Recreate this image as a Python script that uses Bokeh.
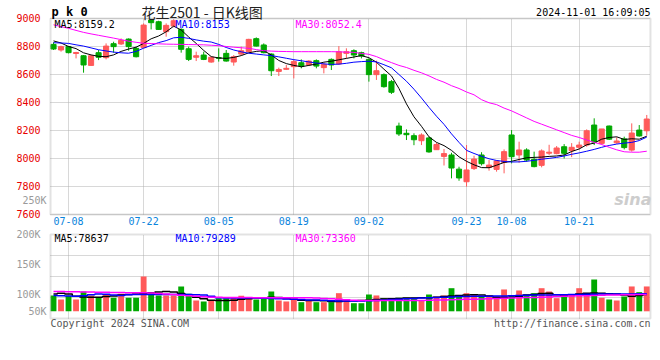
import pandas as pd
from bokeh.plotting import figure
from bokeh.models import (Range1d, FixedTicker, Label, ColumnDataSource, Grid,
                          BoxAnnotation)
from bokeh.layouts import column
from bokeh.embed import file_html
from bokeh.resources import INLINE

# ---------------- data ----------------
HOLIDAYS = ["2024-09-16", "2024-09-17", "2024-10-01", "2024-10-02", "2024-10-03",
            "2024-10-04", "2024-10-07"]
TRADE_DAYS = pd.bdate_range("2024-07-04", "2024-11-01", freq="C", holidays=HOLIDAYS)
DATES = [d.strftime("%m-%d") for d in TRADE_DAYS]
TICK_DATES = ["07-08", "07-22", "08-05", "08-19", "09-02", "09-23", "10-08", "10-21"]
PRICE_TICKS = [7600, 7800, 8000, 8200, 8400, 8600, 8800, 9000]
VOL_TICKS = [100000, 150000, 200000]
VOL_TICK_LABELS = ["100K", "150K", "200K"]

OPEN = [8815, 8775, 8799, 8750, 8734, 8665, 8756, 8720, 8820, 8818,
        8853, 8787, 8792, 8989, 8977, 8906, 8946, 8922, 8784, 8723,
        8739, 8689, 8720, 8751, 8689, 8746, 8763, 8856, 8811, 8746,
        8622, 8637, 8656, 8684, 8668, 8699, 8649, 8708, 8675, 8751,
        8770, 8756, 8708, 8599, 8599, 8549, 8232, 8180, 8163, 8127,
        8147, 8063, 8015, 8025, 7924, 7834, 7928, 8025, 7937, 7922,
        7972, 8168, 8025, 8061, 7994, 7951, 8038, 8035, 8084, 8056,
        8080, 8096, 8239, 8108, 8232, 8112, 8140, 8060, 8203, 8198]
HIGH = [8830, 8806, 8803, 8762, 8739, 8739, 8775, 8822, 8834, 8858,
        8858, 8799, 8965, 8994, 8984, 8965, 8994, 8930, 8799, 8763,
        8763, 8727, 8787, 8775, 8739, 8799, 8855, 8865, 8822, 8751,
        8649, 8668, 8708, 8708, 8703, 8708, 8684, 8715, 8803, 8787,
        8780, 8763, 8715, 8699, 8608, 8561, 8256, 8208, 8180, 8180,
        8156, 8113, 8068, 8041, 7941, 8096, 8020, 8045, 7989, 7989,
        8065, 8203, 8120, 8073, 8049, 8065, 8098, 8089, 8103, 8110,
        8120, 8208, 8287, 8211, 8235, 8152, 8156, 8251, 8239, 8311]
LOW = [8775, 8763, 8751, 8715, 8613, 8661, 8703, 8708, 8756, 8811,
       8770, 8722, 8787, 8922, 8918, 8870, 8937, 8756, 8696, 8696,
       8703, 8684, 8692, 8692, 8663, 8739, 8763, 8800, 8751, 8589,
       8589, 8632, 8572, 8644, 8660, 8644, 8608, 8632, 8668, 8715,
       8715, 8715, 8549, 8561, 8506, 8461, 8161, 8132, 8095, 8096,
       8041, 8061, 7950, 7858, 7841, 7799, 7918, 7950, 7913, 7906,
       7894, 7965, 7970, 7977, 7937, 7937, 8025, 8030, 8000, 8010,
       8065, 8084, 8096, 8100, 8132, 8105, 8065, 8049, 8156, 8164]
CLOSE = [8782, 8799, 8756, 8757, 8668, 8734, 8723, 8803, 8799, 8844,
         8799, 8727, 8953, 8970, 8922, 8951, 8984, 8780, 8708, 8734,
         8708, 8723, 8716, 8696, 8727, 8770, 8851, 8803, 8756, 8627,
         8636, 8644, 8692, 8660, 8696, 8660, 8672, 8668, 8763, 8763,
         8739, 8732, 8599, 8627, 8513, 8473, 8175, 8170, 8134, 8168,
         8047, 8100, 8035, 7932, 7861, 7918, 7996, 7963, 7953, 7982,
         8049, 8013, 8061, 7989, 7942, 8054, 8045, 8075, 8037, 8080,
         8096, 8198, 8117, 8211, 8138, 8125, 8078, 8182, 8161, 8282]
MA5 = [8840, 8825, 8800, 8785, 8755, 8740, 8730, 8727, 8740, 8765,
       8782, 8795, 8822, 8855, 8875, 8905, 8945, 8918, 8868, 8822,
       8772, 8728, 8718, 8715, 8722, 8735, 8755, 8765, 8770, 8740,
       8700, 8678, 8665, 8655, 8665, 8675, 8688, 8695, 8705, 8715,
       8725, 8735, 8720, 8688, 8638, 8590, 8500, 8390, 8298, 8230,
       8155, 8115, 8092, 8058, 8012, 7980, 7955, 7935, 7934, 7952,
       7972, 7980, 7993, 8005, 8008, 8010, 8015, 8018, 8025, 8050,
       8068, 8098, 8110, 8138, 8150, 8155, 8136, 8141, 8138, 8159]
MA10 = [8827, 8825, 8822, 8812, 8803, 8790, 8777, 8768, 8760, 8755,
        8752, 8765, 8788, 8808, 8828, 8842, 8862, 8866, 8858, 8847,
        8838, 8832, 8815, 8793, 8775, 8762, 8752, 8746, 8740, 8735,
        8726, 8716, 8706, 8698, 8690, 8682, 8676, 8672, 8674, 8680,
        8688, 8692, 8695, 8690, 8670, 8648, 8600, 8552, 8495, 8432,
        8365, 8302, 8244, 8176, 8115, 8058, 8036, 8016, 7998, 7986,
        7979, 7975, 7976, 7980, 7987, 7995, 8001, 8008, 8018, 8030,
        8040, 8052, 8065, 8080, 8093, 8103, 8110, 8115, 8128, 8153]
MA30 = [8955, 8942, 8930, 8915, 8901, 8890, 8880, 8870, 8860, 8849,
        8838, 8830, 8823, 8821, 8819, 8817, 8816, 8815, 8814, 8813,
        8812, 8809, 8806, 8800, 8795, 8791, 8787, 8778, 8770, 8767,
        8765, 8764, 8763, 8763, 8763, 8763, 8763, 8763, 8762, 8760,
        8758, 8751, 8744, 8728, 8705, 8685, 8665, 8650, 8630, 8612,
        8590, 8565, 8545, 8520, 8500, 8475, 8455, 8420, 8398, 8385,
        8360, 8340, 8315, 8290, 8265, 8245, 8225, 8205, 8185, 8165,
        8150, 8132, 8115, 8100, 8080, 8062, 8048, 8045, 8045, 8052]
VOLUME = [98400, 91700, 97900, 91700, 105000, 98400, 94500, 99500, 94500, 101200,
          94500, 94500, 130000, 102200, 98400, 98400, 98400, 113400, 101200, 90000,
          88400, 90000, 93900, 93900, 94500, 97900, 94500, 91700, 94500, 105000,
          90000, 88400, 91700, 87200, 90000, 87200, 87200, 87200, 102200, 90000,
          85500, 85500, 100000, 98400, 93900, 90000, 94500, 94500, 94500, 90000,
          100000, 96700, 98400, 110500, 96700, 102200, 100000, 96700, 98400, 96700,
          108400, 98400, 106700, 100000, 102200, 110500, 105000, 93900, 98400, 100000,
          110500, 100000, 125000, 94500, 91700, 90000, 96700, 113400, 103900, 113400]
VMA5 = [101000, 102000, 101000, 97000, 96000, 95500, 95500, 96500, 97500, 99000,
        100000, 101000, 102000, 103000, 104000, 105000, 104000, 101500, 99000, 95500,
        93000, 90500, 90000, 90000, 90500, 92000, 93000, 94000, 94500, 95500,
        95000, 93500, 92000, 90500, 90000, 90000, 89500, 88500, 88500, 89000,
        89500, 90000, 90500, 91500, 92500, 93000, 93500, 94000, 94000, 94500,
        94500, 95500, 96500, 97500, 98500, 99000, 99500, 99000, 97500, 95500,
        95500, 95500, 97000, 99000, 100000, 101500, 102000, 99500, 98500, 99500,
        101000, 102000, 102500, 102000, 101200, 101000, 99000, 97000, 98500, 100000]
VMA10 = [98400, 98000, 97500, 97000, 98000, 99500, 101000, 100500, 99000, 98500,
         99500, 100000, 100000, 100000, 100000, 100000, 100000, 100000, 100000, 99500,
         99000, 97000, 94500, 94300, 94200, 94100, 94000, 94000, 93900, 93500,
         93000, 92500, 92000, 91500, 91000, 90700, 90300, 89500, 89000, 89000,
         89000, 89000, 89500, 90000, 90800, 91500, 92000, 92800, 93500, 94000,
         94500, 95000, 95500, 96000, 96500, 96800, 97000, 97100, 97200, 97300,
         97600, 98000, 98300, 98800, 99000, 99200, 99300, 99500, 99700, 100000,
         100200, 100400, 100600, 100700, 100800, 100900, 101000, 101000, 101100, 101200]
VMA30 = [105000, 104800, 104600, 104400, 104200, 104000, 103800, 103600, 103400, 103200,
         103000, 102900, 102800, 102500, 101800, 100800, 99800, 98800, 98000, 97200,
         96300, 95600, 95300, 95100, 95000, 94900, 94800, 94700, 94600, 94600,
         94500, 94500, 94500, 94500, 94400, 94200, 93500, 92800, 92000, 91200,
         90500, 90000, 90000, 90000, 90000, 90000, 90000, 90000, 90000, 90200,
         90500, 90800, 91000, 91300, 91600, 91900, 92200, 92500, 92800, 93200,
         93600, 94000, 94400, 94800, 95200, 95600, 96000, 96500, 97000, 97400,
         97800, 98100, 98400, 98700, 99000, 99200, 99500, 99700, 99900, 100000]

TITLE_CODE = "p k 0"
TITLE = "花生2501 - 日K线图"
STAMP = "2024-11-01 16:09:05"
PRICE_MA_TEXT = ["MA5:8159.2", "MA10:8153", "MA30:8052.4"]
VOL_MA_TEXT = ["MA5:78637", "MA10:79289", "MA30:73360"]
VOL_TOP_TEXT = "250K"
VOL_LOW_TEXT = "50K"
COPYRIGHT = "Copyright 2024 SINA.COM"
URL = "http://finance.sina.com.cn"
WATERMARK = "sina"

# ---------------- layout / style ----------------
W = 660
H1, H2 = 228, 124
PLOT_X = (-0.4, 79.49)           # the drawn chart box, in candle-index units
VIEW_X = (-7.06, 80.83)          # the whole canvas width
PRICE_BOX = (7600, 9000)
PRICE_VIEW = (7500, 9128.57)
VOL_BOX = (60000, 200000)
VOL_VIEW = (3333, 210000)
VOL_BAR_BASE = 72000

RED = "#ff5a5a"
GREEN = "#00a800"
MA_COLORS = ["#000000", "#0000ff", "#ff00ff"]
MONO = "DejaVu Sans Mono"
BORDER = "#a0a0a0"
GRID = "#b0b0b0"

n = len(CLOSE)
idx = list(range(n))
colors = [RED if c >= o else GREEN for o, c in zip(OPEN, CLOSE)]
src = ColumnDataSource(dict(
    x=idx, high=HIGH, low=LOW,
    top=[max(o, c) for o, c in zip(OPEN, CLOSE)],
    bottom=[min(o, c) for o, c in zip(OPEN, CLOSE)],
    color=colors, vol=VOLUME, ma5=MA5, ma10=MA10, ma30=MA30,
    vma5=VMA5, vma10=VMA10, vma30=VMA30))
tick_idx = [DATES.index(d) for d in TICK_DATES]
HAS_CROSS = "cross_bounds" in Grid.properties()


def make_fig(h, yview):
    f = figure(width=W, height=h, x_range=Range1d(*VIEW_X), y_range=Range1d(*yview),
               output_backend="svg", toolbar_location=None, min_border=0)
    f.background_fill_color = "white"
    f.border_fill_color = "white"
    f.outline_line_color = None
    for ax in (f.xaxis, f.yaxis):
        ax.axis_line_color = None
        ax.major_tick_line_color = None
        ax.minor_tick_line_color = None
        ax.major_label_text_font = MONO
        ax.major_label_text_font_size = "10px"
    f.yaxis.fixed_location = PLOT_X[0]
    f.yaxis.major_label_standoff = 4
    return f


def grids(f, box_y, yticks):
    f.xgrid.ticker = FixedTicker(ticks=tick_idx)
    f.ygrid.ticker = FixedTicker(ticks=yticks)
    for g in (f.xgrid, f.ygrid):
        g.grid_line_color = GRID
        g.grid_line_dash = "1 1"
        g.grid_line_width = 1
    if HAS_CROSS:
        f.xgrid.cross_bounds = box_y
        f.ygrid.cross_bounds = PLOT_X
    else:
        f.xgrid.visible = False
        f.ygrid.visible = False
        f.segment(x0=tick_idx, x1=tick_idx, y0=[box_y[0]] * len(tick_idx),
                  y1=[box_y[1]] * len(tick_idx), line_color=GRID, line_dash="1 1")
        f.segment(x0=[PLOT_X[0]] * len(yticks), x1=[PLOT_X[1]] * len(yticks),
                  y0=yticks, y1=yticks, line_color=GRID, line_dash="1 1")
    f.add_layout(BoxAnnotation(left=PLOT_X[0], right=PLOT_X[1], bottom=box_y[0],
                               top=box_y[1], fill_color=None, fill_alpha=0,
                               line_color=BORDER, line_width=2))


def label(f, h, text, x, y_from_top, color="#000000", align="left", size="10px",
          font=MONO, style_="normal"):
    f.add_layout(Label(x=x, y=h - y_from_top, x_units="screen", y_units="screen",
                       text=text, text_color=color, text_align=align,
                       text_baseline="middle", text_font=font, text_font_size=size,
                       text_font_style=style_))


# ---------------- price panel ----------------
p = make_fig(H1, PRICE_VIEW)
grids(p, PRICE_BOX, PRICE_TICKS)
p.yaxis.ticker = FixedTicker(ticks=PRICE_TICKS)
p.yaxis.major_label_text_color = "#e80000"
p.xaxis.ticker = FixedTicker(ticks=tick_idx)
p.xaxis.fixed_location = PRICE_BOX[0]
p.xaxis.major_label_overrides = {i: DATES[i] for i in tick_idx}
p.xaxis.major_label_text_color = "#0a84dc"
p.xaxis.major_label_standoff = -3

p.segment(x0="x", y0="low", x1="x", y1="high", line_color="color", line_width=1,
          source=src)
p.vbar(x="x", width=0.68, top="top", bottom="bottom", fill_color="color",
       line_color="color", line_width=1, source=src)
for col, c in zip(["ma5", "ma10", "ma30"], MA_COLORS):
    p.line(x="x", y=col, line_color=c, line_width=1, source=src)

label(p, H1, TITLE_CODE, 51, 11, size="12px", style_="bold")
label(p, H1, TITLE, 141, 11, color="#222222", size="14px", font="Noto Sans CJK SC")
label(p, H1, STAMP, 650, 12, align="right")
for t, xx, c in zip(PRICE_MA_TEXT, [54, 175, 295], MA_COLORS):
    label(p, H1, t, xx, 23.5, color=c)
label(p, H1, VOL_TOP_TEXT, 46, 200, color="#9a9a9a", align="right")
label(p, H1, WATERMARK, 651, 199, color="#cdcdcd", align="right", size="16px",
      font="DejaVu Sans", style_="bold italic")

# ---------------- volume panel ----------------
v = make_fig(H2, VOL_VIEW)
grids(v, VOL_BOX, [VOL_BOX[0] + k * (VOL_BOX[1] - VOL_BOX[0]) / 4 for k in (1, 2, 3)])
v.yaxis.ticker = FixedTicker(ticks=VOL_TICKS)
v.yaxis.major_label_overrides = dict(zip(VOL_TICKS, VOL_TICK_LABELS))
v.yaxis.major_label_text_color = "#9a9a9a"
v.xaxis.visible = False

v.vbar(x="x", width=0.78, top="vol", bottom=VOL_BAR_BASE, fill_color="color",
       line_color=None, source=src)
for col, c in zip(["vma5", "vma10", "vma30"], MA_COLORS):
    v.step(x="x", y=col, mode="center", line_color=c, line_width=1.5, source=src)

for t, xx, c in zip(VOL_MA_TEXT, [54, 175, 295], MA_COLORS):
    label(v, H2, t, xx, 9.7, color=c)
label(v, H2, VOL_LOW_TEXT, 46, 82.7, color="#9a9a9a", align="right")
label(v, H2, COPYRIGHT, 50, 95.3, color="#555555")
label(v, H2, URL, 650, 95.3, color="#555555", align="right")

layout = column(p, v, spacing=0)
open("out.html", "w").write(file_html(layout, INLINE))
